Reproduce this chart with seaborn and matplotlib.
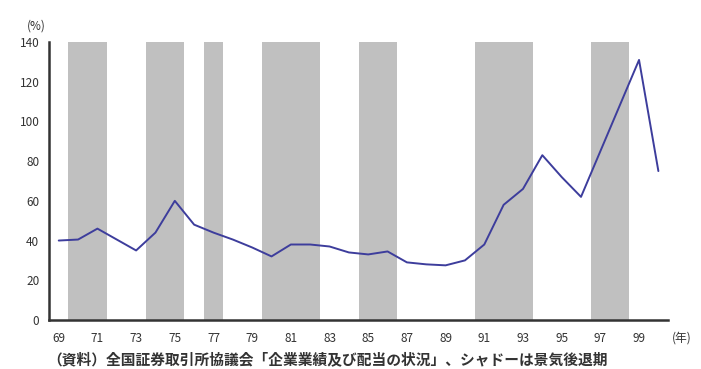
import numpy as np
import pandas as pd
import seaborn as sns
import matplotlib.pyplot as plt

years = list(range(1969, 2001))
values = [40, 40.5, 46, 40.5, 35, 44, 60, 48, 44, 40.5, 36.5, 32,
          38, 38, 37, 34, 33, 34.5, 29, 28, 27.5, 30, 38, 58,
          66, 83, 72, 62, 85, 108, 131, 75]
recessions = [(1970, 1971), (1974, 1975), (1977, 1977), (1980, 1982),
              (1985, 1986), (1991, 1993), (1997, 1998)]
tick_labels = [str(y)[-2:] for y in years[::2] if y < 2000]

sns.set_style("white")
plt.rcParams['font.family'] = ['Noto Sans CJK JP', 'DejaVu Sans']

df = pd.DataFrame({"idx": np.arange(len(years)), "value": values})

fig = plt.figure(figsize=(7.01, 3.69), dpi=100)
ax = fig.add_axes([0.07, 0.133, 0.883, 0.753])

for start, end in recessions:
    ax.axvspan(years.index(start) - 0.5, years.index(end) + 0.5,
               ymin=0, ymax=1, color="#c0c0c0", lw=0, zorder=0)

sns.lineplot(data=df, x="idx", y="value", ax=ax, color="#3d3d9c", lw=1.4, zorder=3)

ax.set_xlim(-0.5, len(years) - 0.5)
ax.set_ylim(0, 140)
ax.set_yticks(range(0, 141, 20))
ax.set_xticks(np.arange(len(years) + 1) - 0.5, minor=False)
ax.set_xticklabels([])
ax.set_xticks(np.arange(0, len(years) - 1, 2), minor=True)
ax.set_xticklabels(tick_labels, minor=True)
ax.tick_params(axis="x", which="major", direction="out", length=4, width=1.2, color="#333333")
ax.tick_params(axis="x", which="minor", length=0, pad=9, labelsize=8.5, labelcolor="#333333")
ax.tick_params(axis="y", direction="out", length=4, width=1.2, color="#333333",
               labelsize=8.5, labelcolor="#333333", pad=3)
ax.set_xlabel("")
ax.set_ylabel("")

for side in ["top", "right"]:
    ax.spines[side].set_visible(False)
for side in ["left", "bottom"]:
    ax.spines[side].set_color("#333333")
    ax.spines[side].set_linewidth(1.8)

fig.text(0.038, 0.92, "(%)", fontsize=8.5, color="#333333")
fig.text(0.958, 0.083, "(年)", fontsize=8.5, color="#333333", va="center")
fig.text(0.068, 0.027, "（資料）全国証券取引所協議会「企業業績及び配当の状況」、シャドーは景気後退期",
         fontsize=10.6, color="#333333", fontweight="bold", va="center")

fig.savefig("out.png", dpi=100)
